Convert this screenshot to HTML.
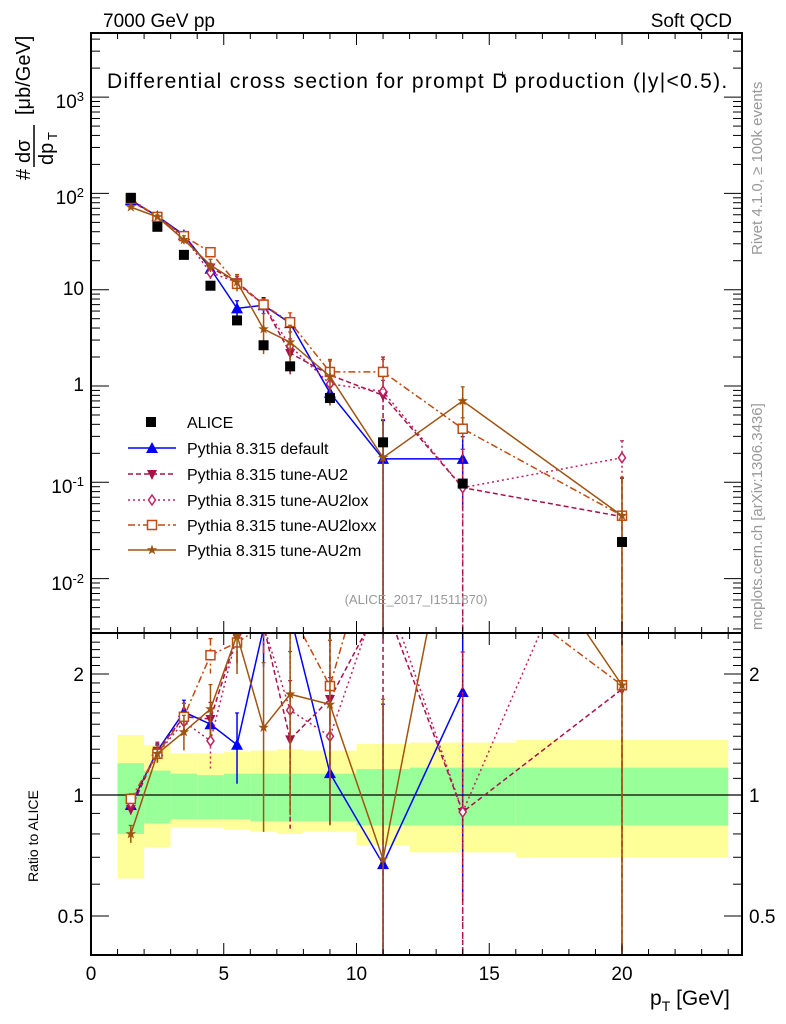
<!DOCTYPE html>
<html><head><meta charset="utf-8">
<style>
html,body{margin:0;background:#fff;width:786px;height:1024px;overflow:hidden;}
svg{display:block;font-family:"Liberation Sans",sans-serif;}
</style></head>
<body>
<svg id="chart" width="786" height="1024" viewBox="0 0 786 1024">
<defs>
<clipPath id="cm"><rect x="91" y="33" width="651" height="600"/></clipPath>
<clipPath id="cr"><rect x="91" y="633" width="651" height="322"/></clipPath>
</defs>
<g id="bands" clip-path="url(#cr)"></g>
<g id="mainplot" clip-path="url(#cm)"></g>
<g id="ratioplot" clip-path="url(#cr)"></g>
<g id="axes"></g>
<text x="103" y="27" font-size="19">7000 GeV pp</text>
<text x="732" y="27" font-size="19" text-anchor="end">Soft QCD</text>
<text x="107" y="88" font-size="21" letter-spacing="1.3">Differential cross section for prompt D<tspan font-size="13" dx="-10" dy="-9">+</tspan><tspan dy="9"> production (|y|&lt;0.5).</tspan></text>
<text x="416" y="604" font-size="13" fill="#999" text-anchor="middle">(ALICE_2017_I1511870)</text>
<text transform="translate(762,255) rotate(-90)" font-size="15" fill="#999">Rivet 4.1.0, ≥ 100k events</text>
<text transform="translate(762,630) rotate(-90)" font-size="15" fill="#999">mcplots.cern.ch [arXiv:1306.3436]</text>
<g font-size="20">
<text transform="translate(30,180) rotate(-90)">#</text>
<text transform="translate(30,163) rotate(-90)">dσ</text>
<line x1="34" y1="167" x2="34" y2="125" stroke="#000" stroke-width="1.5"/>
<text transform="translate(53,165) rotate(-90)">dp</text>
<text transform="translate(57,140) rotate(-90)" font-size="13">T</text>
<text transform="translate(30,115) rotate(-90)">[μb/GeV]</text>
</g>
<text transform="translate(38,882) rotate(-90)" font-size="14">Ratio to ALICE</text>
<text x="650" y="1005" font-size="21">p<tspan font-size="14" dy="6">T</tspan><tspan dy="-6"> [GeV]</tspan></text>
<g id="legend"></g>
</svg>
<script>
const binCenters=[1.5,2.5,3.5,4.5,5.5,6.5,7.5,9,11,14,20];
const binEdges=[1,2,3,4,5,6,7,8,10,12,16,24];
const aliceVals=[90,45,23,11,4.8,2.65,1.6,0.75,0.26,0.097,0.024];
const greenUp=[1.20,1.15,1.13,1.12,1.13,1.13,1.13,1.13,1.16,1.17,1.17];
const greenDown=[0.80,0.85,0.87,0.87,0.87,0.86,0.86,0.86,0.84,0.84,0.84];
const yellowUp=[1.41,1.33,1.27,1.27,1.28,1.29,1.30,1.29,1.34,1.35,1.37];
const yellowDown=[0.62,0.74,0.83,0.83,0.82,0.81,0.80,0.81,0.75,0.72,0.70];
const defaultVals=[85,58,37,16.5,6.4,6.9,4.5,0.85,0.175,0.175,null];
const au2Vals=[83,58,36,17,12,7,2.2,1.3,0.8,0.088,0.044];
const au2loxVals=[86,57,35,15,12,7,2.6,1.05,0.88,0.088,0.18];
const au2loxxVals=[88,57,36,24.5,11.5,7,4.6,1.4,1.4,0.36,0.045];
const au2mVals=[72,57,33,18,12,3.9,2.85,1.26,0.18,0.7,0.045];
const defaultErr=[0.04,0.04,0.07,0.08,0.2,0.2,0.1,0.25,1.5,0.7,0];
const au2Err=[0.03,0.05,0.08,0.1,0.15,0.15,0.4,0.4,1.5,1.5,1.5];
const au2loxErr=[0.03,0.05,0.08,0.15,0.15,0.15,0.4,0.4,0.3,1.5,0.5];
const au2loxxErr=[0.03,0.05,0.08,0.1,0.1,0.15,0.25,0.3,0.35,0.3,1.5];
const au2mErr=[0.05,0.05,0.1,0.15,0.2,0.45,0.5,0.5,1.5,0.4,1.5];
const xTicks=[0,5,10,15,20];
const mainTicks=[0.01,0.1,1,10,100,1000];
const mainTickLabels=["10<sup>-2</sup>","10<sup>-1</sup>","1","10","10<sup>2</sup>","10<sup>3</sup>"];
const ratioTicks=[0.5,1,2];

const NS="http://www.w3.org/2000/svg";
const X0=91,X1=742,YT=33,YM=633,YB=955;
function sx(v){return X0+v*26.55;}
function sy(v){return 386-96.3*Math.log10(v);}
function ry(v){return 795-121*Math.log2(v);}
function mk(tag,attrs,parent){const e=document.createElementNS(NS,tag);for(const k in attrs)e.setAttribute(k,attrs[k]);parent.appendChild(e);return e;}
const bands=document.getElementById('bands'),main=document.getElementById('mainplot'),ratio=document.getElementById('ratioplot'),axes=document.getElementById('axes'),legend=document.getElementById('legend');

for(let i=0;i<binCenters.length;i++){
  const x=sx(binEdges[i]),w=sx(binEdges[i+1])-x;
  const y1=mk('rect',{x:x,y:ry(yellowUp[i]),width:w,height:ry(yellowDown[i])-ry(yellowUp[i]),fill:'#ffff99'},bands);
  
  
  const g1=mk('rect',{x:x,y:ry(greenUp[i]),width:w,height:ry(greenDown[i])-ry(greenUp[i]),fill:'#99ff99'},bands);
  
  
}
const one=mk('line',{x1:X0,x2:X1,y1:ry(1),y2:ry(1),stroke:'#000','stroke-width':1.2},bands);



function marker(type,x,y,c,parent){
  let e;
  if(type==='sq') e=mk('rect',{x:x-5,y:y-5,width:10,height:10,fill:c},parent);
  else if(type==='tu') e=mk('polygon',{points:`${x},${y-6} ${x-6},${y+5} ${x+6},${y+5}`,fill:c},parent);
  else if(type==='td') e=mk('polygon',{points:`${x},${y+6} ${x-5},${y-4} ${x+5},${y-4}`,fill:c},parent);
  else if(type==='di') e=mk('polygon',{points:`${x},${y-5} ${x+3.5},${y} ${x},${y+5} ${x-3.5},${y}`,fill:'#fff',stroke:c,'stroke-width':1.5},parent);
  else if(type==='osq') e=mk('rect',{x:x-4.5,y:y-4.5,width:9,height:9,fill:'#fff',stroke:c,'stroke-width':1.5},parent);
  else if(type==='st'){let p=[];for(let k=0;k<10;k++){const r=k%2?2.2:5.5,a=-Math.PI/2+k*Math.PI/5;p.push((x+r*Math.cos(a)).toFixed(1)+','+(y+r*Math.sin(a)).toFixed(1));}e=mk('polygon',{points:p.join(' '),fill:c},parent);}
  return e;
}

const series=[
 {name:'Pythia 8.315 default',vals:defaultVals,err:defaultErr,c:'#0000ff',dash:'',m:'tu',key:'default'},
 {name:'Pythia 8.315 tune-AU2',vals:au2Vals,err:au2Err,c:'#a8104a',dash:'5,3',m:'td',key:'au2'},
 {name:'Pythia 8.315 tune-AU2lox',vals:au2loxVals,err:au2loxErr,c:'#c02060',dash:'2,3',m:'di',key:'au2lox'},
 {name:'Pythia 8.315 tune-AU2loxx',vals:au2loxxVals,err:au2loxxErr,c:'#c04a10',dash:'7,3,2,3',m:'osq',key:'au2loxx'},
 {name:'Pythia 8.315 tune-AU2m',vals:au2mVals,err:au2mErr,c:'#a05410',dash:'',m:'st',key:'au2m'}
];
function drawSeries(s,parent,fy,isRatio){
  const g=mk('g',{},parent);
  
  
  let pts=[];
  s.vals.forEach((v,i)=>{if(v!=null){const val=isRatio?v/aliceVals[i]:v;pts.push([sx(binCenters[i]),fy(val),val,s.err[i]]);}});
  const pl=mk('polyline',{points:pts.map(p=>p[0]+','+p[1]).join(' '),fill:'none',stroke:s.c,'stroke-width':1.5},g);
  if(s.dash)pl.setAttribute('stroke-dasharray',s.dash);
  pts.forEach(p=>{
    const lo=Math.max(p[2]*(1-p[3]),1e-6),hi=p[2]*(1+p[3]);
    const eb=mk('line',{x1:p[0],x2:p[0],y1:fy(hi),y2:fy(lo),stroke:s.c,'stroke-width':1.5},g);
    if(s.dash)eb.setAttribute('stroke-dasharray',s.dash);
    mk('line',{x1:p[0]-2,x2:p[0]+2,y1:fy(hi),y2:fy(hi),stroke:s.c,'stroke-width':1.2},g);
    const m=marker(s.m,p[0],p[1],s.c,g);
    
    
  });
}
series.forEach(s=>drawSeries(s,main,sy,false));
series.forEach(s=>drawSeries(s,ratio,ry,true));
aliceVals.forEach((v,i)=>{
  const m=marker('sq',sx(binCenters[i]),sy(v),'#000',main);
  
  
});

mk('rect',{x:X0,y:YT,width:X1-X0,height:YM-YT,fill:'none',stroke:'#000','stroke-width':2},axes);
mk('rect',{x:X0,y:YM,width:X1-X0,height:YB-YM,fill:'none',stroke:'#000','stroke-width':2},axes);
for(let v=0;v<=25;v+=1){
  const x=sx(v);if(x>X1)break;const L=v%5===0?12:6;
  mk('line',{x1:x,x2:x,y1:YM,y2:YM-L,stroke:'#000'},axes);
  mk('line',{x1:x,x2:x,y1:YB,y2:YB-L,stroke:'#000'},axes);
  mk('line',{x1:x,x2:x,y1:YM,y2:YM+L,stroke:'#000'},axes);
  mk('line',{x1:x,x2:x,y1:YT,y2:YT+L,stroke:'#000'},axes);
}
xTicks.forEach(v=>{const t=mk('text',{x:sx(v),y:980,'font-size':19,'text-anchor':'middle'},axes);t.textContent=v;
 
 });
for(let d=-3;d<=3;d++){for(let k=1;k<10;k++){const v=k*Math.pow(10,d);const y=sy(v);if(y<YT||y>YM)continue;const L=k===1?18:9;
 mk('line',{x1:X0,x2:X0+L,y1:y,y2:y,stroke:'#000'},axes);mk('line',{x1:X1,x2:X1-L,y1:y,y2:y,stroke:'#000'},axes);}}
mainTicks.forEach((v,i)=>{const fo=mk('foreignObject',{x:20,y:sy(v)-13,width:64,height:30},axes);
 
 
 fo.innerHTML='<div xmlns="http://www.w3.org/1999/xhtml" style="font:19px Liberation Sans,sans-serif;text-align:right;line-height:26px">'+mainTickLabels[i].replace(/<sup>/g,'<sup style="font-size:13px;vertical-align:7px">')+'</div>';});
for(let v=0.4;v<=2.5;v+=0.1){const y=ry(v);if(y<YM||y>YB)continue;const big=ratioTicks.some(t=>Math.abs(t-v)<1e-6);const L=big?18:9;
 mk('line',{x1:X0,x2:X0+L,y1:y,y2:y,stroke:'#000'},axes);mk('line',{x1:X1,x2:X1-L,y1:y,y2:y,stroke:'#000'},axes);}
ratioTicks.forEach(v=>{
 const t=mk('text',{x:84,y:ry(v)+7,'font-size':19,'text-anchor':'end'},axes);t.textContent=v;
 
 
 const t2=mk('text',{x:749,y:ry(v)+7,'font-size':19},axes);t2.textContent=v;
 
 });
const ly=[422,448,474,500,525,550];
const le0=mk('g',{},legend);


marker('sq',151,ly[0],'#000',le0);
const t0=mk('text',{x:187,y:ly[0]+6,'font-size':16},le0);t0.textContent='ALICE';
series.forEach((s,i)=>{
  const g=mk('g',{},legend);
  
  
  const y=ly[i+1];
  const l=mk('line',{x1:128,x2:176,y1:y,y2:y,stroke:s.c,'stroke-width':1.5},g);
  if(s.dash)l.setAttribute('stroke-dasharray',s.dash);
  marker(s.m,152,y,s.c,g);
  const t=mk('text',{x:187,y:y+6,'font-size':16},g);t.textContent=s.name;
});
</script>
</body></html>
